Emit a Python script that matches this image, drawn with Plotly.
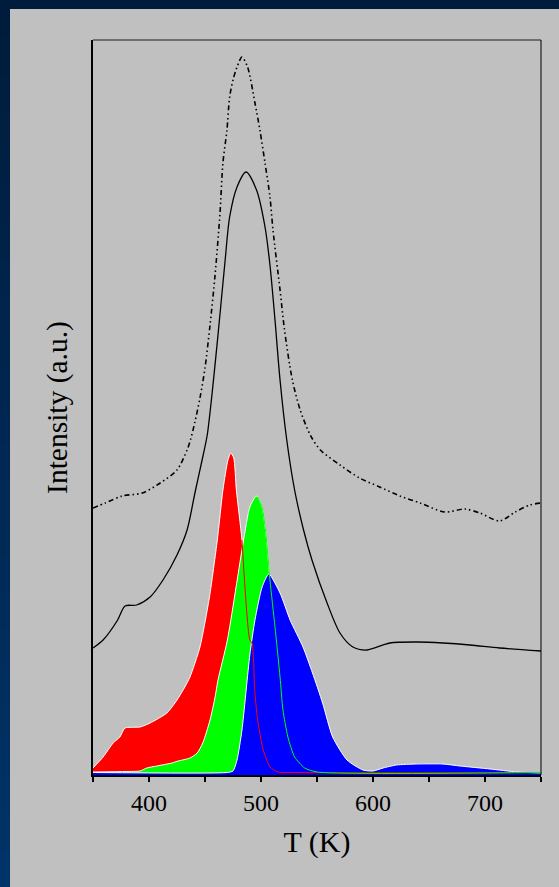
import plotly.graph_objects as go

# ---- data (T in K, intensity in arbitrary units) ----
t_total = [350, 361, 376, 394, 410, 425, 434, 437, 441, 445.5, 450, 454.5, 459, 463.4, 466, 469.6, 472, 475,
           478.6, 483, 488, 494.6, 499, 503.6, 508, 510.7, 517, 521, 528, 535, 544, 553, 570.5, 588, 606,
           624, 642, 664, 682, 695.5, 713, 727, 740, 750]
i_total = [267, 272, 279, 282, 292, 305, 325, 335, 353, 377, 407, 450, 500, 562, 612, 645, 678, 695,
           708, 718, 708, 672, 645, 612, 578, 545, 485, 445, 395, 365, 340, 325, 310, 297, 288,
           279, 272, 263, 266, 262, 254, 263, 270, 272]

t_fit = [350, 359, 372, 378.6, 389, 401, 412.5, 425, 434, 441, 448, 452, 456, 461.6, 468, 472, 478.6,
         486.6, 496, 503.6, 508, 512.5, 517, 523, 530, 538, 545.5, 559, 570.5, 582, 594.6, 615, 640,
         662.5, 686.6, 713, 750]
i_fit = [127, 135, 155, 169, 170, 178, 195, 220, 245, 282, 318, 340, 378, 440, 515, 558, 588,
         603, 585, 548, 510, 455, 395, 335, 285, 245, 215, 172, 142, 128, 125, 132, 133,
         132, 130, 127, 124]

t_p1 = [350, 359, 368, 374, 378.6, 392, 401, 416, 425, 432, 436.6, 445.5, 454, 461, 466, 470.5, 473,
        475.7, 478, 483, 490, 492, 494.6, 497, 502, 508, 515, 530, 750]
i_p1 = [7, 18, 32, 38, 47, 48, 52, 62, 75, 88, 98, 128, 178, 235, 285, 315, 322,
        317, 285, 235, 135, 132, 82, 55, 25, 8, 3, 2.5, 2.5]

t_p2 = [350, 380, 392, 398, 407, 420.5, 426, 430, 436.6, 443, 448, 454.5, 459, 461.6, 470, 484, 490,
        495.5, 497, 501, 504.5, 508, 512.5, 517, 519.6, 524, 530, 539, 550, 750]
i_p2 = [3, 3.5, 4, 7, 9, 12, 14, 15, 17, 22, 32, 55, 78, 95, 135, 232, 268,
        279, 278, 268, 240, 195, 148, 98, 65, 38, 18, 7, 3, 2.5]

t_p3 = [350, 470, 475, 478.6, 483, 490, 494.6, 501, 507, 517, 526, 537.5, 546, 555, 564, 576.8, 591,
        600, 609, 621, 639, 662.5, 677.7, 704.5, 728.6, 750]
i_p3 = [2.5, 2.5, 4, 15, 45, 120, 155, 188, 201, 182, 155, 128, 102, 72, 38, 15, 5,
        4, 7, 10, 11, 11, 9, 6, 3, 2]

x_ticks = [350, 400, 450, 500, 550, 600, 650, 700, 750]
x_tick_labels = ["", "400", "", "500", "", "600", "", "700", ""]

# ---- figure ----
GRAY = "#C0C0C0"
fig = go.Figure()

fig.add_trace(go.Scatter(x=t_p1, y=i_p1, mode="lines", line=dict(color="white", width=1, shape="spline", smoothing=0.6),
                         fill="tozeroy", fillcolor="#FF0000", hoverinfo="skip"))
fig.add_trace(go.Scatter(x=t_p2, y=i_p2, mode="lines", line=dict(color="white", width=1, shape="spline", smoothing=0.6),
                         fill="tozeroy", fillcolor="#00FF00", hoverinfo="skip"))
fig.add_trace(go.Scatter(x=t_p3, y=i_p3, mode="lines", line=dict(color="white", width=1, shape="spline", smoothing=0.6),
                         fill="tozeroy", fillcolor="#0000FF", hoverinfo="skip"))

# thin coloured outlines of the right flanks that show over later fills
k1 = [i for i, t in enumerate(t_p1) if t >= 483]
fig.add_trace(go.Scatter(x=[t_p1[i] for i in k1], y=[i_p1[i] for i in k1], mode="lines",
                         line=dict(color="#FF0000", width=1, shape="spline", smoothing=0.6), hoverinfo="skip"))
k2 = [i for i, t in enumerate(t_p2) if t >= 497]
fig.add_trace(go.Scatter(x=[t_p2[i] for i in k2], y=[i_p2[i] for i in k2], mode="lines",
                         line=dict(color="#00FF00", width=1, shape="spline", smoothing=0.6), hoverinfo="skip"))

fig.add_trace(go.Scatter(x=t_fit, y=i_fit, mode="lines",
                         line=dict(color="black", width=1.3, shape="spline", smoothing=0.8)))
fig.add_trace(go.Scatter(x=t_total, y=i_total, mode="lines",
                         line=dict(color="black", width=1.6, shape="spline", smoothing=0.8,
                                   dash="5px,3px,1.5px,3px,1.5px,3px")))

W, H = 559, 887
L, R, T, B = 93, 541, 40, 775
pw, ph = R - L, B - T

def px(xp):
    return (xp - L) / pw

def py(yp):
    return (B - yp) / ph

shapes = []
# navy frame (gradient on the left strip, solid on top)
n = 24
for k in range(n):
    f = k / (n - 1)
    r, g, b = 0, int(28 + (51 - 28) * f), int(60 + (104 - 60) * f)
    y0 = k * H / n
    y1 = (k + 1) * H / n + 1
    shapes.append(dict(type="rect", xref="paper", yref="paper", x0=px(0), x1=px(10), y0=py(y1), y1=py(y0),
                       fillcolor=f"rgb({r},{g},{b})", line=dict(width=0), layer="below"))
shapes.append(dict(type="rect", xref="paper", yref="paper", x0=px(0), x1=px(W), y0=py(9), y1=py(0),
                   fillcolor="rgb(0,28,60)", line=dict(width=0), layer="below"))
# frame lines
shapes.append(dict(type="line", xref="paper", yref="paper", x0=0, x1=1, y0=1, y1=1,
                   line=dict(color="#555555", width=1.5)))
shapes.append(dict(type="line", xref="paper", yref="paper", x0=1, x1=1, y0=0, y1=1,
                   line=dict(color="black", width=1)))

FONT = "Liberation Serif, Times New Roman, serif"
fig.update_layout(
    width=W, height=H,
    margin=dict(l=L, r=W - R, t=T, b=H - B),
    paper_bgcolor=GRAY, plot_bgcolor=GRAY,
    showlegend=False,
    font=dict(family=FONT, color="black"),
    shapes=shapes,
    xaxis=dict(range=[350, 750], tickvals=x_ticks, ticktext=x_tick_labels,
               ticks="outside", ticklen=5, tickwidth=1.5, tickcolor="black",
               showline=True, linewidth=2, linecolor="black", showgrid=False, zeroline=False,
               tickfont=dict(size=24, family=FONT),
               title=dict(text="T (K)", font=dict(size=30, family=FONT), standoff=16)),
    yaxis=dict(range=[0, 735], showticklabels=False, ticks="",
               showline=True, linewidth=2, linecolor="black", showgrid=False, zeroline=False,
               title=dict(text="Intensity (a.u.)", font=dict(size=29.5, family=FONT), standoff=15)),
)

fig.write_html("out.html", config={"displayModeBar": False},
               post_script="document.body.style.margin='0';document.body.style.overflow='hidden';")
